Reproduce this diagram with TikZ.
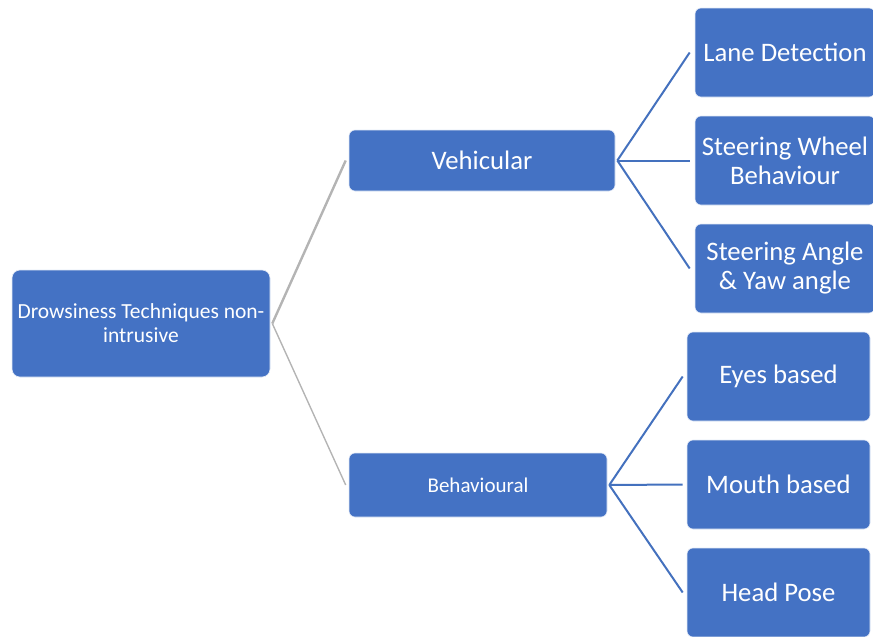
\documentclass[tikz,border=0pt]{standalone}
\usepackage{fontspec}
\setmainfont{Carlito}
\definecolor{boxblue}{HTML}{4472C4}
\definecolor{lineblue}{HTML}{4471BE}
\definecolor{linegray}{HTML}{B4B4B4}
\begin{document}
\begin{tikzpicture}[x=1pt,y=-1pt,
  box/.style={draw=white!85!boxblue, line width=0.6pt, fill=boxblue, text=white, rounded corners=6pt, align=center, inner sep=0pt},
  bigtext/.style={font=\fontsize{26.7}{29}\selectfont},
  midtext/.style={font=\fontsize{21.5}{24}\selectfont},
  bluelink/.style={draw=lineblue, line width=2pt},
  graylink/.style={draw=linegray}
]
\useasboundingbox (0,0) rectangle (873,637);
% root
\node[box, rounded corners=8pt, midtext, minimum width=258pt, minimum height=107pt] (root) at (141,323.5) {Drowsiness Techniques non-\\intrusive};
% level 2
\node[box, bigtext, minimum width=266pt, minimum height=61pt] (veh) at (482,160.5) {Vehicular};
\node[box, font=\fontsize{21}{24}\selectfont, minimum width=258pt, minimum height=64pt] (beh) at (478,485) {Behavioural};
% level 3 vehicular
\node[box, bigtext, minimum width=180pt, minimum height=89pt] (lane) at (785,52.5) {Lane Detection};
\node[box, bigtext, minimum width=180pt, minimum height=89pt] (wheel) at (785,160.5) {Steering Wheel\\Behaviour};
\node[box, bigtext, minimum width=180pt, minimum height=89pt] (angle) at (785,268.5) {Steering Angle\\\& Yaw angle};
% level 3 behavioural
\node[box, bigtext, minimum width=183pt, minimum height=89pt] (eyes) at (778.5,376.5) {Eyes based};
\node[box, bigtext, minimum width=183pt, minimum height=89pt] (mouth) at (778.5,484.5) {Mouth based};
\node[box, bigtext, minimum width=183pt, minimum height=89pt] (head) at (778.5,592.5) {Head Pose};
% connectors
\draw[graylink, line width=2.4pt] ([xshift=2pt]root.east) -- ([xshift=-3pt]veh.west);
\draw[graylink, line width=1.4pt] ([xshift=2pt]root.east) -- ([xshift=-3pt]beh.west);
\foreach \t in {lane,wheel,angle}{
  \draw[bluelink] ([xshift=2pt]veh.east) -- ([xshift=-5pt]\t.west);
}
\foreach \t in {eyes,mouth,head}{
  \draw[bluelink] ([xshift=2pt]beh.east) -- ([xshift=-4pt]\t.west);
}
\end{tikzpicture}
\end{document}
